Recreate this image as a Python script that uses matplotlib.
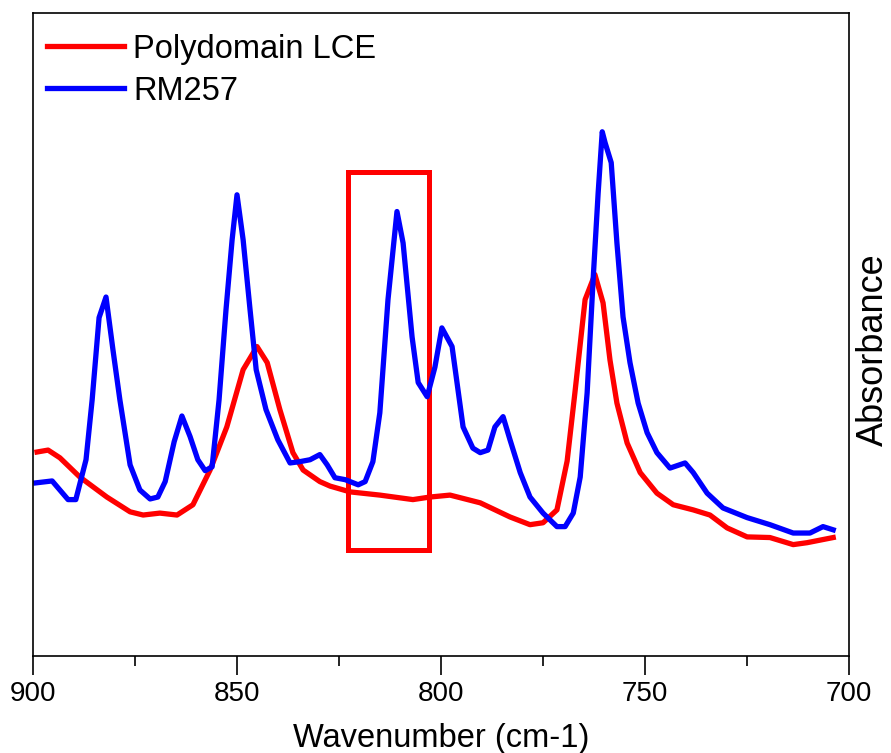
import matplotlib

matplotlib.use("Agg")
import matplotlib.pyplot as plt
from matplotlib.patches import Rectangle
from matplotlib.ticker import MultipleLocator

plt.rcParams["font.family"] = ["Liberation Sans", "DejaVu Sans"]

# RM257 spectrum (wavenumber in cm-1, absorbance in a.u.)
rm_wn = [899.3, 895.3, 891.4, 889.5, 887.0, 885.5, 883.8, 882.1, 880.4, 878.7,
         876.2, 873.8, 871.3, 869.4, 867.6, 865.4, 863.5, 861.5, 859.6, 857.8,
         856.1, 854.4, 852.7, 851.2, 850.0, 848.5, 846.8, 845.3, 842.9, 840.0,
         837.0, 834.6, 832.1, 829.7, 827.9, 826.0, 823.5, 820.3, 818.6, 816.7,
         815.0, 813.0, 810.8, 809.3, 807.1, 805.6, 803.4, 801.5, 799.8, 797.3,
         794.6, 792.2, 790.4, 788.5, 786.8, 784.8, 783.1, 780.6, 778.2, 775.0,
         771.6, 769.6, 767.6, 765.9, 764.2, 762.7, 761.5, 760.5, 759.8, 758.3,
         756.9, 755.4, 753.7, 751.7, 749.5, 747.1, 743.9, 740.2, 738.2, 734.8,
         730.9, 725.0, 719.4, 713.7, 709.6, 706.4, 703.9]
rm_abs = [0.269, 0.272, 0.243, 0.243, 0.305, 0.398, 0.526, 0.558, 0.476, 0.398,
          0.297, 0.258, 0.244, 0.247, 0.271, 0.333, 0.373, 0.341, 0.305, 0.288,
          0.294, 0.398, 0.538, 0.647, 0.717, 0.647, 0.538, 0.445, 0.383, 0.336,
          0.300, 0.302, 0.305, 0.313, 0.297, 0.277, 0.274, 0.266, 0.271, 0.302,
          0.378, 0.554, 0.691, 0.642, 0.496, 0.425, 0.403, 0.449, 0.510, 0.481,
          0.356, 0.323, 0.316, 0.320, 0.356, 0.372, 0.336, 0.285, 0.247, 0.222,
          0.201, 0.201, 0.222, 0.278, 0.409, 0.589, 0.720, 0.815, 0.798, 0.767,
          0.642, 0.527, 0.456, 0.393, 0.347, 0.316, 0.292, 0.300, 0.285, 0.253,
          0.230, 0.215, 0.204, 0.191, 0.191, 0.201, 0.196]

# Polydomain LCE spectrum
lce_wn = [899.0, 896.3, 893.4, 888.5, 881.9, 876.2, 873.0, 868.9, 864.7, 860.8,
          856.6, 852.5, 848.5, 845.1, 842.6, 839.5, 836.3, 833.8, 829.7, 827.2,
          822.3, 815.0, 806.9, 802.7, 797.8, 790.4, 783.1, 778.2, 775.0, 771.6,
          769.1, 767.2, 764.7, 762.3, 760.3, 758.6, 756.9, 754.4, 751.2, 747.1,
          743.1, 738.2, 734.1, 729.9, 725.0, 719.4, 713.7, 710.3, 707.1, 703.9]
lce_abs = [0.317, 0.320, 0.308, 0.278, 0.247, 0.224, 0.219, 0.222, 0.219, 0.235,
           0.289, 0.356, 0.445, 0.481, 0.456, 0.383, 0.316, 0.289, 0.271, 0.264,
           0.255, 0.250, 0.243, 0.247, 0.250, 0.238, 0.216, 0.204, 0.207, 0.227,
           0.303, 0.409, 0.554, 0.593, 0.549, 0.460, 0.393, 0.331, 0.285, 0.253,
           0.235, 0.227, 0.219, 0.199, 0.185, 0.184, 0.173, 0.176, 0.180, 0.184]

# highlighted band
box_wn = (822.8, 802.9)
box_abs = (0.165, 0.753)

fig = plt.figure(figsize=(8.91, 7.53), dpi=100)
ax = fig.add_axes([0.037, 0.129, 0.916, 0.854])

ax.plot(lce_wn, lce_abs, color="#ff0000", linewidth=3.8, label="Polydomain LCE")
ax.plot(rm_wn, rm_abs, color="#0000ff", linewidth=3.8, label="RM257")

ax.add_patch(Rectangle((box_wn[1], box_abs[0]), box_wn[0] - box_wn[1],
                       box_abs[1] - box_abs[0], fill=False,
                       edgecolor="#ff0000", linewidth=3.6))

ax.set_xlim(900, 700)
ax.set_ylim(0, 1)
ax.xaxis.set_major_locator(MultipleLocator(50))
ax.xaxis.set_minor_locator(MultipleLocator(25))
ax.tick_params(axis="x", which="major", direction="out", length=14, width=1.2,
               labelsize=20, pad=4)
ax.tick_params(axis="x", which="minor", direction="out", length=7, width=1.2)
ax.set_yticks([])
for s in ax.spines.values():
    s.set_linewidth(1.2)

ax.set_xlabel("Wavenumber (cm-1)", fontsize=23.5, va="center")
ax.xaxis.set_label_coords(0.5, -0.128)
ax.yaxis.set_label_position("right")
ax.set_ylabel("Absorbance", fontsize=26, va="center", ha="center")
ax.yaxis.set_label_coords(1.03, 0.476)

ax.legend(loc="upper left", frameon=False, fontsize=23.5, handlelength=2.35,
          handletextpad=0.3, labelspacing=0.34, borderaxespad=0.0,
          bbox_to_anchor=(0.001, 0.988))

fig.savefig("out.png", dpi=100)
